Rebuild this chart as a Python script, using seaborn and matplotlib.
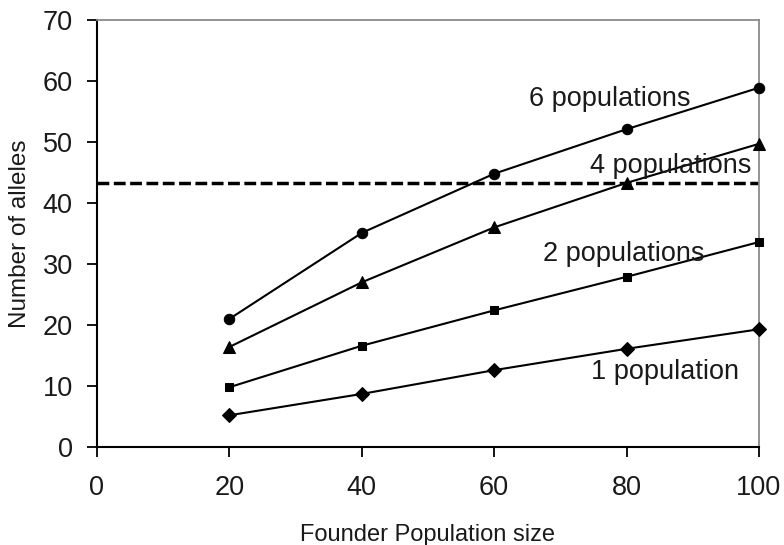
import matplotlib
matplotlib.use("Agg")
import matplotlib.pyplot as plt
import seaborn as sns
import pandas as pd

# Founder population sizes and mean allele counts per number of source populations
founder_size = [20, 40, 60, 80, 100]
one_pop = [5.2, 8.7, 12.6, 16.1, 19.3]
two_pops = [9.8, 16.6, 22.4, 27.9, 33.6]
four_pops = [16.4, 27.0, 36.0, 43.3, 49.7]
six_pops = [21.0, 35.1, 44.8, 52.1, 58.9]
series_names = ["1 population", "2 populations", "4 populations", "6 populations"]
reference_level = 43.3

x_ticks = [0, 20, 40, 60, 80, 100]
y_ticks = [0, 10, 20, 30, 40, 50, 60, 70]

sns.set_theme(style="white")
plt.rcParams["font.family"] = ["Liberation Sans", "DejaVu Sans"]

rows = []
for name, vals in zip(series_names, [one_pop, two_pops, four_pops, six_pops]):
    for x, y in zip(founder_size, vals):
        rows.append({"size": x, "alleles": y, "series": name})
df = pd.DataFrame(rows)

fig = plt.figure(figsize=(7.84, 5.45), dpi=100)
ax = fig.add_axes([0.1237, 0.1798, 0.8444, 0.7835])

markers = {"1 population": "D", "2 populations": "s",
           "4 populations": "^", "6 populations": "o"}
sizes = {"1 population": 7.5, "2 populations": 6, "4 populations": 8.5, "6 populations": 7.5}

for name in series_names:
    sub = df[df["series"] == name]
    sns.lineplot(data=sub, x="size", y="alleles", ax=ax, color="black",
                 linewidth=1.5, marker=markers[name], markersize=sizes[name],
                 markeredgecolor="black", markerfacecolor="black",
                 legend=False, zorder=3, clip_on=False)

ax.axhline(reference_level, color="black", linewidth=2.5,
           linestyle=(0, (3.4, 1.3)), zorder=2)

text_color = "#1a1a1a"
label_pos = {
    "6 populations": (77.5, 57.0),
    "4 populations": (86.7, 46.0),
    "2 populations": (79.5, 31.6),
    "1 population": (85.8, 12.3),
}
for name, (tx, ty) in label_pos.items():
    ax.text(tx, ty, name, ha="center", va="center", fontsize=19.5, color=text_color)

ax.set_xlim(0, 100)
ax.set_ylim(0, 70)
ax.set_xticks(x_ticks)
ax.set_yticks(y_ticks)
ax.tick_params(axis="both", which="both", direction="out", length=7, width=1.3,
               color="black", labelsize=19.5, labelcolor=text_color,
               bottom=True, left=True, top=False, right=False)
ax.tick_params(axis="x", pad=13.5)
ax.tick_params(axis="y", pad=10.5)

for side in ["left", "bottom"]:
    ax.spines[side].set_color("black")
    ax.spines[side].set_linewidth(1.5)
for side in ["top", "right"]:
    ax.spines[side].set_visible(True)
    ax.spines[side].set_color("#8a8a8a")
    ax.spines[side].set_linewidth(1.3)

ax.set_xlabel("Founder Population size", fontsize=17, color=text_color, labelpad=16)
ax.set_ylabel("Number of alleles", fontsize=17.5, color=text_color, labelpad=8)
ax.grid(False)

fig.savefig("out.png", dpi=100, facecolor="white")
